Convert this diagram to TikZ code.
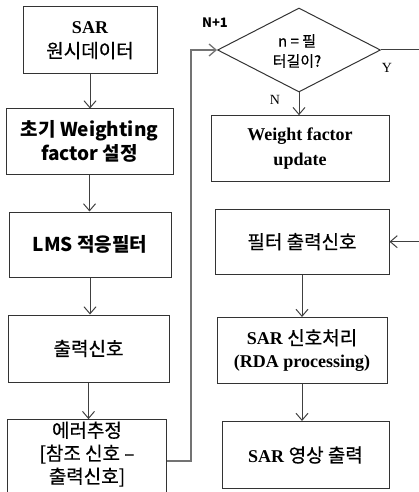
\documentclass[tikz,border=0pt]{standalone}
\usepackage{fontspec}
\setmainfont{Noto Sans CJK KR}[UprightFeatures={FakeBold=0.5}]
\newfontfamily\latser{Liberation Serif}
\usetikzlibrary{arrows.meta,shapes.geometric}

\begin{document}
\begin{tikzpicture}[x=1pt,y=-1pt,
		box/.style={draw=black!80,line width=1pt,align=center,inner sep=2pt,font=\fontsize{19}{24}\selectfont},
		flow/.style={draw=black!75,line width=1pt,-{Straight Barb[length=7pt,width=12pt]}},
		back/.style={draw=black!55,line width=1.3pt},
		tag/.style={font=\fontsize{13}{15}\selectfont}]
		\useasboundingbox (0,0) rectangle (418,492);
		
		%Left column
		\node[box,minimum width=134pt,minimum height=67pt] (raw) at (90,40.5) {{\latser\bfseries\fontsize{18}{24}\selectfont SAR}\\원시데이터};
		\node[box,minimum width=167pt,minimum height=65pt] (init) at (89.5,141.5) {\bfseries 초기 Weighting\\\bfseries factor 설정};
		\node[box,minimum width=162pt,minimum height=65pt] (lms) at (90,244.5) {\bfseries LMS 적응필터};
		\node[box,minimum width=161pt,minimum height=67pt] (outp) at (88.5,348.5) {출력신호};
		\node[box,minimum width=159pt,minimum height=72pt,font=\fontsize{19}{23}\selectfont] (err) at (87,461) {에러추정\\{}[참조 신호 –\\출력신호]\\[-6pt]};
		
		\draw[flow] (raw.south) -- (raw.south |- init.north);
		\draw[flow] (init.south) -- (init.south |- lms.north);
		\draw[flow] (lms.south) -- (lms.south |- outp.north);
		\draw[flow] (outp.south) -- (outp.south |- err.north);
		
		%Check
		\node[draw=black!80,line width=1pt,diamond,minimum width=163pt,minimum height=84pt,inner sep=0pt] (chk) at (299,50) {};
		\node[align=center,font=\fontsize{15}{20}\selectfont] (chktxt) at (297,51) {n = 필\\터길이?};
		\node[tag,font=\fontsize{13}{15}\selectfont\bfseries] (nplus) at (215,23) {N+1};
		\node[tag,font=\fontsize{14}{16}\latser] (yes) at (387,68) {Y};
		\node[tag,font=\fontsize{14}{16}\latser] (no) at (275,100) {N};
		
		%Right column
		\node[box,minimum width=178pt,minimum height=66pt,font=\fontsize{18}{25}\latser\bfseries] (upd) at (300,148.7) {Weight factor\\update};
		\node[box,minimum width=174pt,minimum height=65pt] (filt) at (302,241.7) {필터 출력신호};
		\node[box,minimum width=170pt,minimum height=66pt,font=\fontsize{18}{23}\latser\bfseries] (rda) at (302,350.5) {SAR {\mdseries\rmfamily\fontsize{19}{23}\selectfont 신호처리}\\(RDA processing)};
		\node[box,minimum width=167pt,minimum height=67pt,font=\fontsize{18}{24}\latser\bfseries] (img) at (305.5,455) {SAR {\mdseries\rmfamily\fontsize{19}{24}\selectfont 영상 출력}};
		
		\draw[flow] (chk.south) -- (chk.south |- upd.north);
		\draw[flow] (filt.south) -- (filt.south |- rda.north);
		\draw[flow] (rda.south) -- (rda.south |- img.north);
		
		%Loops
		\coordinate (up) at (191,50);
		\draw[flow,back] (err.east) -| (up) -- (chk.west);
		\coordinate (rt) at (421,50);
		\draw[flow] (chk.east) -- (rt) |- (filt.east);
	\end{tikzpicture}
\end{document}
